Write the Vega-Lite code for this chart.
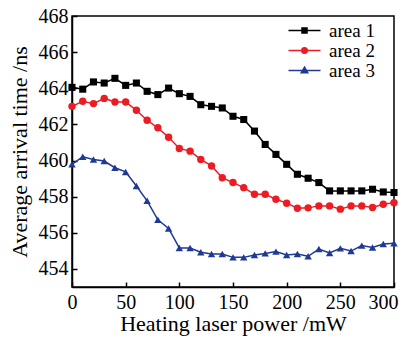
{
  "$schema": "https://vega.github.io/schema/vega-lite/v6.json",
  "width": 322,
  "height": 271,
  "autosize": {"type": "none"},
  "padding": {"left": 72, "top": 16, "right": 12, "bottom": 54},
  "background": "white",
  "config": {
    "font": "Liberation Serif",
    "view": {"stroke": "black", "strokeWidth": 1.5},
    "axis": {
      "grid": false,
      "domainColor": "black",
      "domainWidth": 1.5,
      "tickColor": "black",
      "tickWidth": 1.5,
      "tickSize": -5,
      "labelColor": "black",
      "labelFontSize": 20,
      "labelFont": "Liberation Serif",
      "titleFont": "Liberation Serif",
      "titleFontSize": 22,
      "titleFontWeight": "normal",
      "titleColor": "black"
    }
  },
  "data": {"values": [
    {"p":0,"t":464.05,"s":"area 1"},{"p":10,"t":463.95,"s":"area 1"},{"p":20,"t":464.35,"s":"area 1"},{"p":30,"t":464.29,"s":"area 1"},{"p":40,"t":464.55,"s":"area 1"},{"p":50,"t":464.16,"s":"area 1"},{"p":60,"t":464.29,"s":"area 1"},{"p":70,"t":463.83,"s":"area 1"},{"p":80,"t":463.65,"s":"area 1"},{"p":90,"t":464.01,"s":"area 1"},{"p":100,"t":463.7,"s":"area 1"},{"p":110,"t":463.55,"s":"area 1"},{"p":120,"t":463.09,"s":"area 1"},{"p":130,"t":463.0,"s":"area 1"},{"p":140,"t":462.91,"s":"area 1"},{"p":150,"t":462.45,"s":"area 1"},{"p":160,"t":462.27,"s":"area 1"},{"p":170,"t":461.63,"s":"area 1"},{"p":180,"t":460.89,"s":"area 1"},{"p":190,"t":460.34,"s":"area 1"},{"p":200,"t":459.79,"s":"area 1"},{"p":210,"t":459.24,"s":"area 1"},{"p":220,"t":459.02,"s":"area 1"},{"p":230,"t":458.78,"s":"area 1"},{"p":240,"t":458.32,"s":"area 1"},{"p":250,"t":458.32,"s":"area 1"},{"p":260,"t":458.32,"s":"area 1"},{"p":270,"t":458.32,"s":"area 1"},{"p":280,"t":458.41,"s":"area 1"},{"p":290,"t":458.26,"s":"area 1"},{"p":300,"t":458.23,"s":"area 1"},
    {"p":0,"t":463.0,"s":"area 2"},{"p":10,"t":463.28,"s":"area 2"},{"p":20,"t":463.15,"s":"area 2"},{"p":30,"t":463.44,"s":"area 2"},{"p":40,"t":463.24,"s":"area 2"},{"p":50,"t":463.24,"s":"area 2"},{"p":60,"t":462.78,"s":"area 2"},{"p":70,"t":462.23,"s":"area 2"},{"p":80,"t":461.81,"s":"area 2"},{"p":90,"t":461.29,"s":"area 2"},{"p":100,"t":460.67,"s":"area 2"},{"p":110,"t":460.52,"s":"area 2"},{"p":120,"t":460.06,"s":"area 2"},{"p":130,"t":459.7,"s":"area 2"},{"p":140,"t":459.05,"s":"area 2"},{"p":150,"t":458.78,"s":"area 2"},{"p":160,"t":458.5,"s":"area 2"},{"p":170,"t":458.13,"s":"area 2"},{"p":180,"t":458.13,"s":"area 2"},{"p":190,"t":457.86,"s":"area 2"},{"p":200,"t":457.64,"s":"area 2"},{"p":210,"t":457.36,"s":"area 2"},{"p":220,"t":457.38,"s":"area 2"},{"p":230,"t":457.49,"s":"area 2"},{"p":240,"t":457.49,"s":"area 2"},{"p":250,"t":457.31,"s":"area 2"},{"p":260,"t":457.49,"s":"area 2"},{"p":270,"t":457.49,"s":"area 2"},{"p":280,"t":457.4,"s":"area 2"},{"p":290,"t":457.58,"s":"area 2"},{"p":300,"t":457.67,"s":"area 2"},
    {"p":0,"t":459.79,"s":"area 3"},{"p":10,"t":460.21,"s":"area 3"},{"p":20,"t":460.06,"s":"area 3"},{"p":30,"t":459.97,"s":"area 3"},{"p":40,"t":459.6,"s":"area 3"},{"p":50,"t":459.37,"s":"area 3"},{"p":60,"t":458.59,"s":"area 3"},{"p":70,"t":457.77,"s":"area 3"},{"p":80,"t":456.72,"s":"area 3"},{"p":90,"t":456.24,"s":"area 3"},{"p":100,"t":455.16,"s":"area 3"},{"p":110,"t":455.16,"s":"area 3"},{"p":120,"t":454.92,"s":"area 3"},{"p":130,"t":454.83,"s":"area 3"},{"p":140,"t":454.83,"s":"area 3"},{"p":150,"t":454.64,"s":"area 3"},{"p":160,"t":454.64,"s":"area 3"},{"p":170,"t":454.77,"s":"area 3"},{"p":180,"t":454.86,"s":"area 3"},{"p":190,"t":454.96,"s":"area 3"},{"p":200,"t":454.77,"s":"area 3"},{"p":210,"t":454.83,"s":"area 3"},{"p":220,"t":454.7,"s":"area 3"},{"p":230,"t":455.1,"s":"area 3"},{"p":240,"t":454.88,"s":"area 3"},{"p":250,"t":455.14,"s":"area 3"},{"p":260,"t":454.99,"s":"area 3"},{"p":270,"t":455.29,"s":"area 3"},{"p":280,"t":455.19,"s":"area 3"},{"p":290,"t":455.38,"s":"area 3"},{"p":300,"t":455.42,"s":"area 3"}
  ]},
  "encoding": {
    "x": {"field": "p", "type": "quantitative", "title": "Heating laser power /mW",
      "scale": {"domain": [0, 300], "nice": false},
      "axis": {"values": [0, 50, 100, 150, 200, 250, 300], "labelPadding": 10, "titlePadding": 1,
        "labelFlush": false,
        "labelAlign": {"condition": {"test": "datum.value === 300", "value": "right"}, "value": "center"},
        "labelOffset": {"condition": {"test": "datum.value === 300", "value": 4}, "value": 0}}},
    "y": {"field": "t", "type": "quantitative", "title": "Average arrival time /ns",
      "scale": {"domain": [453, 468], "nice": false, "zero": false},
      "axis": {"values": [454, 456, 458, 460, 462, 464, 466, 468], "labelPadding": 9, "titlePadding": 7}},
    "color": {"field": "s", "type": "nominal",
      "scale": {"domain": ["area 1", "area 2", "area 3"], "range": ["#000000", "#ec1c24", "#1f3a93"]},
      "legend": {
        "title": null,
        "orient": "none",
        "legendX": 223,
        "legendY": 5,
        "padding": 0,
        "symbolSize": 100,
        "labelFontSize": 19,
        "labelFont": "Liberation Serif",
        "labelColor": "black",
        "labelOffset": 15,
        "rowPadding": 0,
        "encode": {"symbols": {"update": {
          "shape": {"signal": "datum.value === 'area 1' ? 'M-3.2,0H3.2M-0.5,-0.5H0.5V0.5H-0.5Z' : datum.value === 'area 2' ? 'M-3.2,0H3.2M0.55,0A0.55,0.55 0 1,1 -0.55,0A0.55,0.55 0 1,1 0.55,0Z' : 'M-3.2,0H3.2M0,-0.65L0.65,0.45H-0.65Z'"},
          "fill": {"scale": "color", "field": "value"},
          "stroke": {"scale": "color", "field": "value"},
          "strokeWidth": {"value": 1.5},
          "opacity": {"value": 1},
          "fillOpacity": {"value": 1},
          "strokeOpacity": {"value": 1}
        }}}
      }}
  },
  "layer": [
    {"mark": {"type": "line", "strokeWidth": 1.5}},
    {"transform": [{"filter": "datum.s === 'area 1'"}],
     "mark": {"type": "point", "filled": true, "opacity": 1, "size": 50, "shape": "square"}},
    {"transform": [{"filter": "datum.s === 'area 2'"}],
     "mark": {"type": "point", "filled": true, "opacity": 1, "size": 55, "shape": "circle"}},
    {"transform": [{"filter": "datum.s === 'area 3'"}],
     "mark": {"type": "point", "filled": true, "opacity": 1, "size": 55, "shape": "triangle-up"}}
  ]
}
